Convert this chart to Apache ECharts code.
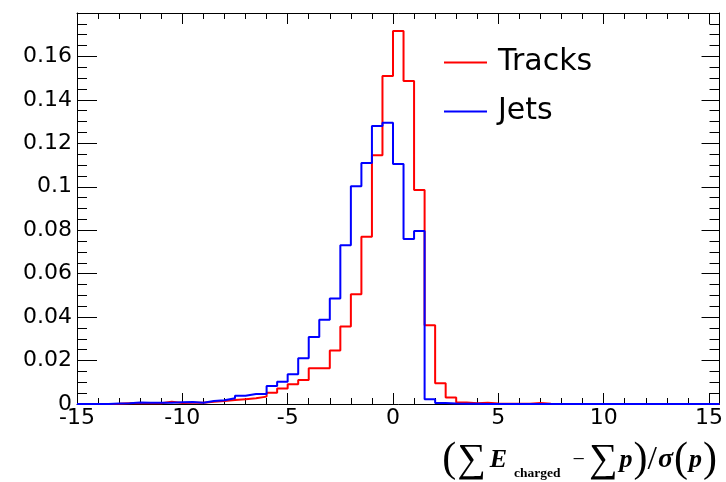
<!DOCTYPE html>
<html>
<head>
<meta charset="utf-8">
<script src="https://cdn.jsdelivr.net/npm/echarts@6/dist/echarts.min.js"></script>
<style>
html,body{margin:0;padding:0;background:#fff;}
#chart{width:726px;height:482px;}
</style>
</head>
<body>
<div id="chart"></div>
<script>
// Bin edges (left edges of 61 bins of width 0.5, plus the final right edge)
var binEdges = [-15,-14.5,-14,-13.5,-13,-12.5,-12,-11.5,-11,-10.5,-10,-9.5,-9,-8.5,-8,-7.5,-7,-6.5,-6,-5.5,-5,-4.5,-4,-3.5,-3,-2.5,-2,-1.5,-1,-0.5,0,0.5,1,1.5,2,2.5,3,3.5,4,4.5,5,5.5,6,6.5,7,7.5,8,8.5,9,9.5,10,10.5,11,11.5,12,12.5,13,13.5,14,14.5,15,15.5];

var seriesNames = ['Tracks', 'Jets'];

// Bin contents (one per bin, 61 bins)
var tracksValues = [0,0,0,0.0001,0.0003,0.0005,0.0003,0.0003,0.0010,0.0005,0.0006,0.0006,0.0010,0.0014,0.0018,0.0022,0.0026,0.0034,0.0052,0.0071,0.0091,0.0111,0.0165,0.0165,0.0246,0.0357,0.0505,0.0770,0.1145,0.1510,0.1717,0.1487,0.0985,0.0362,0.0095,0.0030,0.0007,0.0004,0.0006,0.0002,0.0001,0.0001,0.0001,0.0005,0.0001,0,0,0,0,0,0,0,0,0,0,0,0,0,0,0,0];

var jetsValues = [0,0,0,0.0002,0.0004,0.0007,0.0006,0.0006,0.0006,0.0008,0.0009,0.0006,0.0014,0.0017,0.0026,0.0038,0.0046,0.0046,0.0083,0.0103,0.0137,0.0211,0.0309,0.0388,0.0486,0.0731,0.1002,0.1109,0.1280,0.1295,0.1105,0.0760,0.0796,0.0022,0.0005,0.0002,0.0001,0.0001,0,0,0,0,0,0,0,0,0,0,0,0,0,0,0,0,0,0,0,0,0,0,0];

var xTickValues = [-15,-10,-5,0,5,10,15];
var yTickValues = [0,0.02,0.04,0.06,0.08,0.1,0.12,0.14,0.16];

function stepData(vals) {
  var d = [];
  for (var i = 0; i < vals.length; i++) d.push([binEdges[i], vals[i]]);
  d.push([binEdges[vals.length], vals[vals.length - 1]]);
  return d;
}

var chart = echarts.init(document.getElementById('chart'), null, {renderer: 'canvas'});
var FONT = 'DejaVu Sans, Liberation Sans, Arial, sans-serif';
var SERIF = 'Liberation Serif, Times New Roman, DejaVu Serif, serif';
var lineC = {color: '#000', width: 1};

var xBase = {type: 'value', min: -15, max: 15.5, gridIndex: 0, splitLine: {show: false}};
var yBase = {type: 'value', min: 0, max: 0.18, interval: 0.02, splitLine: {show: false}};

var option = {
  animation: false,
  backgroundColor: '#fff',
  grid: {left: 77, right: 6, top: 13, bottom: 78, containLabel: false},
  legend: {
    orient: 'vertical', left: 444, top: 47, padding: 0,
    itemWidth: 43, itemHeight: 2, icon: 'rect', itemGap: 18,
    textStyle: {fontSize: 30, lineHeight: 31, fontFamily: FONT, color: '#000', padding: [0, 0, 0, 6]},
    data: seriesNames
  },
  xAxis: [
    Object.assign({}, xBase, {position: 'bottom', interval: 5,
      axisLine: {show: true, onZero: false, lineStyle: lineC},
      axisTick: {show: true, inside: true, length: 11, lineStyle: lineC},
      axisLabel: {show: true, fontSize: 22, fontFamily: FONT, color: '#000', margin: 3, showMaxLabel: false,
        formatter: function (v) { return xTickValues.indexOf(v) >= 0 ? String(v) : ''; }}}),
    Object.assign({}, xBase, {position: 'bottom', interval: 1,
      axisLine: {show: false, onZero: false},
      axisTick: {show: true, inside: true, length: 6, lineStyle: lineC},
      axisLabel: {show: false}}),
    Object.assign({}, xBase, {position: 'top', interval: 5,
      axisLine: {show: true, onZero: false, lineStyle: lineC},
      axisTick: {show: true, inside: true, length: 11, lineStyle: lineC},
      axisLabel: {show: false}}),
    Object.assign({}, xBase, {position: 'top', interval: 1,
      axisLine: {show: false, onZero: false},
      axisTick: {show: true, inside: true, length: 6, lineStyle: lineC},
      axisLabel: {show: false}})
  ],
  yAxis: [
    Object.assign({}, yBase, {position: 'left',
      axisLine: {show: true, onZero: false, lineStyle: lineC},
      axisTick: {show: true, inside: true, length: 20, lineStyle: lineC},
      minorTick: {show: true, splitNumber: 4, length: 10, lineStyle: lineC},
      axisLabel: {show: true, fontSize: 22, fontFamily: FONT, color: '#000', margin: 5, showMaxLabel: false,
        formatter: function (v) { var r = Math.round(v * 1000) / 1000; return yTickValues.indexOf(r) >= 0 ? String(r) : ''; }}}),
    Object.assign({}, yBase, {position: 'right',
      axisLine: {show: true, onZero: false, lineStyle: lineC},
      axisTick: {show: true, inside: true, length: 18, lineStyle: lineC},
      minorTick: {show: true, splitNumber: 4, length: 10, lineStyle: lineC},
      axisLabel: {show: false}})
  ],
  series: [
    {name: seriesNames[0], type: 'line', step: 'end', xAxisIndex: 0, yAxisIndex: 0,
     data: stepData(tracksValues), showSymbol: false, symbol: 'none',
     lineStyle: {color: '#ff0000', width: 2}, itemStyle: {color: '#ff0000'}, z: 3},
    {name: seriesNames[1], type: 'line', step: 'end', xAxisIndex: 0, yAxisIndex: 0,
     data: stepData(jetsValues), showSymbol: false, symbol: 'none',
     lineStyle: {color: '#0000ff', width: 2}, itemStyle: {color: '#0000ff'}, z: 4}
  ],
  graphic: [{
    type: 'text', right: 9, top: 439,
    style: {
      text: '{p|(}{s|∑}{e|E}{sub|charged}{m|−}{s|∑}{e2|p}{p|)}{sl|/}{g|σ}{p|(}{e3|p}{p|)}',
      rich: {
        p: {fontSize: 42, fontFamily: SERIF, fill: '#000'},
        s: {fontSize: 40, fontFamily: SERIF, fill: '#000', padding: [0, 0, 0, 1]},
        e: {fontSize: 26, fontFamily: SERIF, fontStyle: 'italic', fontWeight: 'bold', fill: '#000', padding: [0, 0, 0, 4]},
        e2: {fontSize: 26, fontFamily: SERIF, fontStyle: 'italic', fontWeight: 'bold', fill: '#000', padding: [0, 1, 0, 2]},
        e3: {fontSize: 26, fontFamily: SERIF, fontStyle: 'italic', fontWeight: 'bold', fill: '#000', padding: [0, 1, 0, 1]},
        sub: {fontSize: 13.5, fontFamily: SERIF, fontWeight: 'bold', fill: '#000', padding: [27, 0, 0, 7]},
        m: {fontSize: 22, fontFamily: SERIF, fill: '#000', padding: [0, 3, 0, 12]},
        sl: {fontSize: 34, fontFamily: SERIF, fill: '#000'},
        g: {fontSize: 28, fontFamily: SERIF, fontStyle: 'italic', fontWeight: 'bold', fill: '#000', padding: [0, 1, 0, 1]}
      }
    }
  }]
};
chart.setOption(option);
</script>
</body>
</html>
